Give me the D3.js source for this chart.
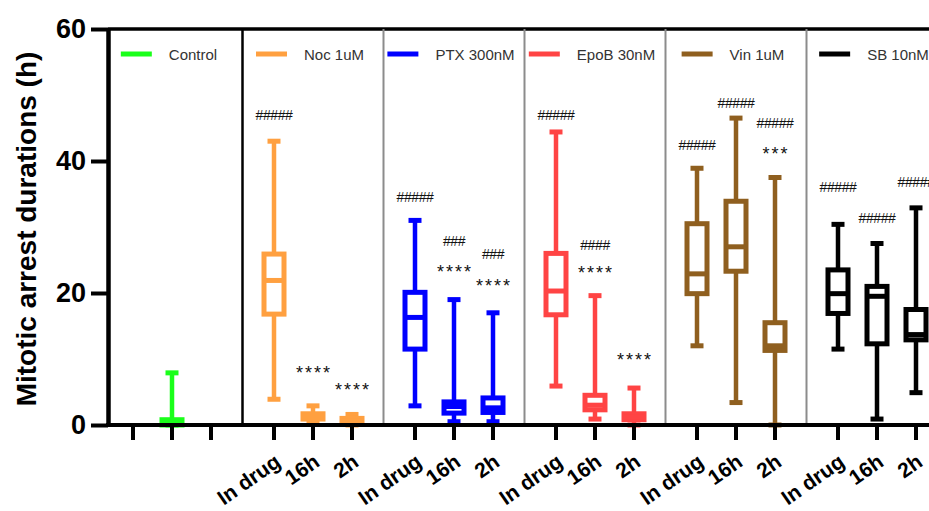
<!DOCTYPE html>
<html>
<head>
<meta charset="utf-8">
<script src="https://cdn.jsdelivr.net/npm/d3@7"></script>
<style>
  body { margin: 0; background: #fff; }
  svg { font-family: "Liberation Sans", Arial, sans-serif; }
</style>
</head>
<body>
<svg id="viz"></svg>
<script>
// 1. Data
const groups = ["Control", "Noc 1uM", "PTX 300nM", "EpoB 30nM", "Vin 1uM", "SB 10nM"];
const groupColors = ["#1aff1a", "#ffa040", "#0000ff", "#ff4444", "#8f5f1f", "#000000"];
const conditions = ["In drug", "16h", "2h"];
const yTicks = [0, 20, 40, 60];

// [min, q1, median, q3, max] in hours
const controlStats = [0, 0, 0.4, 0.8, 7.9];
const nocStats  = [[3.9, 16.8, 21.9, 25.9, 43.0], [0.3, 0.9, 1.2, 1.7, 2.9], [0, 0.3, 0.6, 1.0, 1.6]];
const ptxStats  = [[2.9, 11.5, 16.3, 20.1, 31.0], [0.5, 1.8, 2.8, 3.5, 19.0], [0.5, 1.9, 2.6, 4.1, 17.0]];
const epobStats = [[5.9, 16.7, 20.3, 26.0, 44.4], [0.9, 2.3, 3.0, 4.5, 19.6], [0, 0.8, 1.2, 1.7, 5.6]];
const vinStats  = [[12.0, 19.9, 22.9, 30.5, 38.9], [3.4, 23.3, 27.0, 33.9, 46.5], [0, 11.3, 12.0, 15.5, 37.5]];
const sbStats   = [[11.5, 16.9, 19.9, 23.5, 30.4], [0.9, 12.3, 19.5, 21.0, 27.5], [4.9, 12.9, 13.7, 17.5, 32.9]];

// significance marks: [group, condition, text, height (h)]
const annotations = [
  ["Noc 1uM", "In drug", "#####", 47.0],
  ["Noc 1uM", "16h", "****", 8.5],
  ["Noc 1uM", "2h", "****", 5.9],
  ["PTX 300nM", "In drug", "#####", 34.5],
  ["PTX 300nM", "16h", "###", 27.9],
  ["PTX 300nM", "16h", "****", 23.8],
  ["PTX 300nM", "2h", "###", 25.9],
  ["PTX 300nM", "2h", "****", 21.7],
  ["EpoB 30nM", "In drug", "#####", 47.0],
  ["EpoB 30nM", "16h", "####", 27.3],
  ["EpoB 30nM", "16h", "****", 23.6],
  ["EpoB 30nM", "2h", "****", 10.5],
  ["Vin 1uM", "In drug", "#####", 42.4],
  ["Vin 1uM", "16h", "#####", 48.8],
  ["Vin 1uM", "2h", "#####", 45.8],
  ["Vin 1uM", "2h", "***", 41.7],
  ["SB 10nM", "In drug", "#####", 36.1],
  ["SB 10nM", "16h", "#####", 31.3],
  ["SB 10nM", "2h", "#####", 36.8]
];

// 2. Build box list
const treated = [nocStats, ptxStats, epobStats, vinStats, sbStats];
const boxes = [{group: "Control", cond: null, s: controlStats}];
treated.forEach((st, i) => {
  st.forEach((s, j) => boxes.push({group: groups[i + 1], cond: conditions[j], s: s}));
});

// 3. Svg and scales
const width = 929, height = 511;
const svg = d3.select("#viz").attr("width", width).attr("height", height);

const axisX = 108, plotTop = 29, plotBottom = 425;
const y = d3.scaleLinear().domain([0, 60]).range([plotBottom, plotTop]);
const xGroup = d3.scaleBand().domain(groups).range([101.5, 947.5]);
const xCond = d3.scalePoint().domain(conditions).range([-39, 39]);
const color = d3.scaleOrdinal().domain(groups).range(groupColors);

const center = g => xGroup(g) + xGroup.bandwidth() / 2;
const xPos = (g, c) => center(g) + (c ? xCond(c) : 0);

// 4. Frame: top border and group dividers
svg.append("line")
   .attr("x1", axisX).attr("x2", width)
   .attr("y1", plotTop).attr("y2", plotTop)
   .attr("stroke", "#000").attr("stroke-width", 3.5);

svg.selectAll("line.divider")
   .data(groups.slice(1))
   .enter()
   .append("line")
   .attr("class", "divider")
   .attr("x1", d => xGroup(d)).attr("x2", d => xGroup(d))
   .attr("y1", plotTop).attr("y2", plotBottom)
   .attr("stroke", (d, i) => i === 0 ? "#000" : "#8c8c8c")
   .attr("stroke-width", (d, i) => i === 0 ? 2.5 : 2);

// 5. Legend, one per panel
groups.forEach((g, i) => {
  const item = svg.append("g");
  const label = item.append("text")
     .attr("y", 54)
     .attr("dominant-baseline", "central")
     .attr("font-size", 15)
     .attr("fill", "#333")
     .text(g);
  const w = label.node().getComputedTextLength();
  const start = center(g) - 3 - (48 + w) / 2;
  label.attr("x", start + 48);
  item.append("line")
     .attr("x1", start).attr("x2", start + 31)
     .attr("y1", 54).attr("y2", 54)
     .attr("stroke", color(g)).attr("stroke-width", 5);
});

// 6. Boxes
const bg = svg.selectAll("g.box")
   .data(boxes)
   .enter()
   .append("g")
   .attr("class", "box")
   .attr("transform", d => "translate(" + xPos(d.group, d.cond) + ",0)")
   .attr("stroke", d => color(d.group));

bg.append("line")
  .attr("y1", d => y(d.s[0])).attr("y2", d => y(d.s[4]))
  .attr("stroke-width", 4.5);
bg.append("line")
  .attr("x1", -6.5).attr("x2", 6.5)
  .attr("y1", d => y(d.s[4])).attr("y2", d => y(d.s[4]))
  .attr("stroke-width", 5);
bg.append("line")
  .attr("x1", -6.5).attr("x2", 6.5)
  .attr("y1", d => y(d.s[0])).attr("y2", d => y(d.s[0]))
  .attr("stroke-width", 5);
bg.append("rect")
  .attr("x", -10).attr("width", 20)
  .attr("y", d => y(d.s[3]))
  .attr("height", d => y(d.s[1]) - y(d.s[3]))
  .attr("fill", "#fff")
  .attr("stroke-width", 5);
bg.append("line")
  .attr("x1", -10).attr("x2", 10)
  .attr("y1", d => y(d.s[2])).attr("y2", d => y(d.s[2]))
  .attr("stroke-width", 5);

// 7. Significance marks
svg.selectAll("text.sig")
   .data(annotations)
   .enter()
   .append("text")
   .attr("class", "sig")
   .attr("text-anchor", "middle")
   .attr("fill", "#111")
   .each(function(d) {
     const t = d3.select(this);
     const x = xPos(d[0], d[1]);
     if (d[2][0] === "#") {
       t.attr("x", x).attr("y", y(d[3]))
        .attr("dominant-baseline", "central")
        .attr("font-size", 14)
        .attr("letter-spacing", -0.4);
     } else {
       t.attr("x", x + 1).attr("y", y(d[3]) + 10)
        .attr("font-size", 18)
        .attr("letter-spacing", 2);
     }
   })
   .text(d => d[2]);

// 8. Axes
svg.append("line")
   .attr("x1", axisX - 2).attr("x2", width)
   .attr("y1", plotBottom).attr("y2", plotBottom)
   .attr("stroke", "#000").attr("stroke-width", 4);

const yAxis = svg.append("g")
   .attr("transform", "translate(" + axisX + ",0)")
   .call(d3.axisLeft(y).tickValues(yTicks).tickSize(17).tickSizeOuter(0).tickPadding(5));
yAxis.select(".domain").attr("stroke-width", 4.5);
yAxis.selectAll(".tick line").attr("stroke-width", 4);
yAxis.selectAll(".tick text")
     .attr("font-family", "Liberation Sans, Arial, sans-serif")
     .attr("font-size", 27).attr("font-weight", "bold").attr("fill", "#000");

svg.append("text")
   .attr("transform", "translate(36," + ((plotTop + plotBottom) / 2 + 2) + ") rotate(-90)")
   .attr("text-anchor", "middle")
   .attr("font-size", 28).attr("font-weight", "bold")
   .text("Mitotic arrest durations (h)");

// x ticks for every slot, labels only under treated groups
const slots = [];
groups.forEach(g => conditions.forEach(c => slots.push({group: g, cond: c})));

svg.selectAll("line.xtick")
   .data(slots)
   .enter()
   .append("line")
   .attr("class", "xtick")
   .attr("x1", d => xPos(d.group, d.cond)).attr("x2", d => xPos(d.group, d.cond))
   .attr("y1", plotBottom).attr("y2", plotBottom + 15)
   .attr("stroke", "#000").attr("stroke-width", 4);

svg.selectAll("text.xlab")
   .data(slots.filter(d => d.group !== "Control"))
   .enter()
   .append("text")
   .attr("class", "xlab")
   .attr("transform", d => "translate(" + (xPos(d.group, d.cond) + 8) + ",465) rotate(-35)")
   .attr("text-anchor", "end")
   .attr("font-size", 21).attr("font-weight", "bold")
   .text(d => d.cond);
</script>
</body>
</html>
